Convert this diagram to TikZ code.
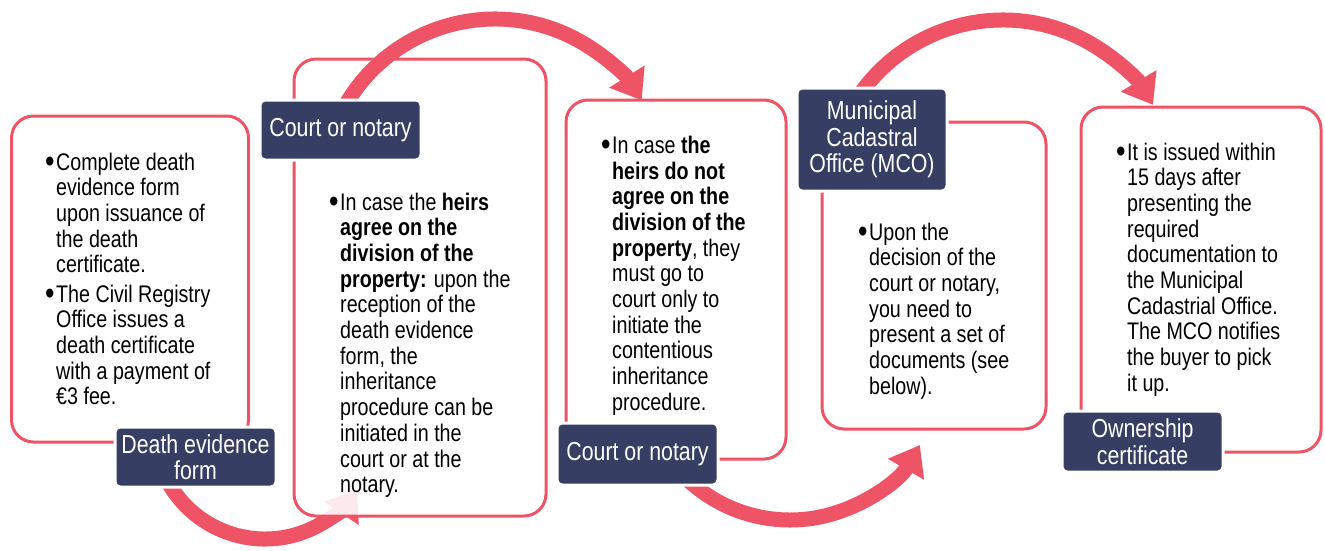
\documentclass[tikz,border=0pt]{standalone}
\usepackage{fontspec}
\setmainfont{Liberation Sans}[FakeStretch=0.82]
\usetikzlibrary{arrows.meta}
\definecolor{pinkc}{HTML}{EF5366}
\definecolor{navy}{HTML}{363E64}
\newcommand{\bul}{\makebox[11pt][l]{\raisebox{-2.5pt}{\fontsize{33}{33}\selectfont\char"2022}}}
\newcommand{\btab}[1]{\begin{tabular}[t]{@{}l@{}l@{}}#1\end{tabular}}
\tikzset{
  box/.style={draw=pinkc, line width=3pt, rounded corners=22pt, fill=white, fill opacity=0.88, inner sep=0pt},
  lab/.style={fill=navy, draw=white, line width=3pt, rounded corners=5pt, text=white, align=center,
              font=\fontsize{26}{26.5}\selectfont, inner sep=0pt},
  body/.style={anchor=base west, inner sep=0pt, font=\fontsize{24}{25.7}\selectfont, text=black},
  arr/.style={draw=pinkc, line width=15pt, -{Triangle[width=40pt,length=28pt]}},
}
\begin{document}
\begin{tikzpicture}[x=1pt,y=-1pt]
\useasboundingbox (0,0) rectangle (1325,550);

% arrow under box 2
\path (265,428) ++(155:111) coordinate (a1s);
\draw[arr] (a1s) arc[start angle=155, end angle=34, radius=111];

% boxes
\node[box, minimum width=237pt, minimum height=326pt] (b1) at (130,279) {};
\node[box, minimum width=252pt, minimum height=457pt] (b2) at (420,287.5) {};
\node[box, minimum width=220pt, minimum height=359pt] (b3) at (676,279.5) {};
\node[box, minimum width=224pt, minimum height=307pt] (b4) at (934,275.5) {};
\node[box, minimum width=240pt, minimum height=345pt] (b5) at (1201,279.5) {};

% other arrows
\path (495,192) ++(-150:173) coordinate (a2s);
\draw[arr] (a2s) arc[start angle=-150, end angle=-32, radius=173];
\path (790,370) ++(135:150) coordinate (a3s);
\draw[arr] (a3s) arc[start angle=135, end angle=30, radius=150];
\path (1003,195) ++(-150:175) coordinate (a4s);
\draw[arr] (a4s) arc[start angle=-150, end angle=-31, radius=175];

% labels
\node[lab, minimum width=161pt, minimum height=60pt] (l1) at (195.5,457) {Death evidence\\form};
\node[lab, minimum width=161pt, minimum height=60pt] (l2) at (340.5,130) {Court or notary};
\node[lab, minimum width=161pt, minimum height=62pt] (l3) at (637.5,454) {Court or notary};
\node[lab, minimum width=150pt, minimum height=103pt] (l4) at (872,139.5) {Municipal\\Cadastral\\Office (MCO)};
\node[lab, minimum width=161pt, minimum height=61pt] (l5) at (1142.5,441.5) {Ownership\\certificate};

% texts
\node[body] (t1) at (45,170) {\btab{%
\bul & Complete death\\
 & evidence form\\
 & upon issuance of\\
 & the death\\
 & certificate.\\[3.5pt]
\bul & The Civil Registry\\
 & Office issues a\\
 & death certificate\\
 & with a payment of\\
 & €3 fee.}};

\node[body] (t2) at (329,210) {\btab{%
\bul & In case the \textbf{heirs}\\
 & \textbf{agree on the}\\
 & \textbf{division of the}\\
 & \textbf{property:} upon the\\
 & reception of the\\
 & death evidence\\
 & form, the\\
 & inheritance\\
 & procedure can be\\
 & initiated in the\\
 & court or at the\\
 & notary.}};

\node[body] (t3) at (601,153.3) {\btab{%
\bul & In case \textbf{the}\\
 & \textbf{heirs do not}\\
 & \textbf{agree on the}\\
 & \textbf{division of the}\\
 & \textbf{property}, they\\
 & must go to\\
 & court only to\\
 & initiate the\\
 & contentious\\
 & inheritance\\
 & procedure.}};

\node[body] (t4) at (858,240) {\btab{%
\bul & Upon the\\
 & decision of the\\
 & court or notary,\\
 & you need to\\
 & present a set of\\
 & documents (see\\
 & below).}};

\node[body] (t5) at (1116,160) {\btab{%
\bul & It is issued within\\
 & 15 days after\\
 & presenting the\\
 & required\\
 & documentation to\\
 & the Municipal\\
 & Cadastrial Office.\\
 & The MCO notifies\\
 & the buyer to pick\\
 & it up.}};
\end{tikzpicture}
\end{document}
